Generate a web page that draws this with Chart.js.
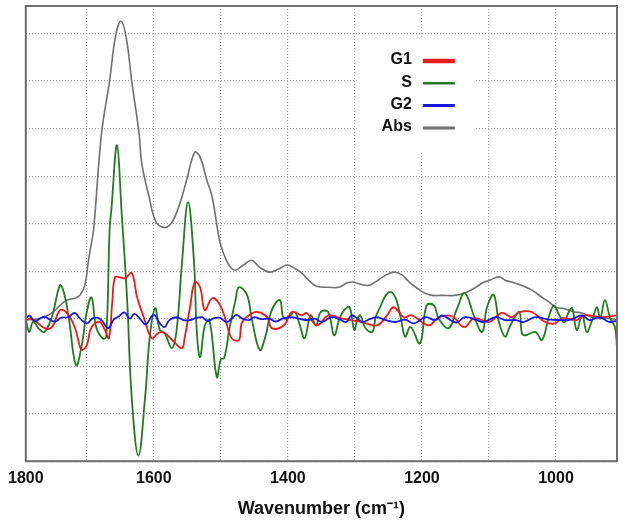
<!DOCTYPE html>
<html>
<head>
<meta charset="utf-8">
<script src="https://cdn.jsdelivr.net/npm/chart.js@4.4.1/dist/chart.umd.min.js"></script>
<style>
  html, body { margin: 0; padding: 0; background: #fff; }
  #wrap { width: 626px; height: 522px; }
</style>
</head>
<body>
<div id="wrap"><canvas id="spectra"></canvas></div>
<script>
// axis range (left edge is labelled 1800)
var xLeft = 1791;
var xRight = 909;
var xGrid = [1791, 1700, 1600, 1500, 1400, 1300, 1200, 1100, 1000, 909];
var xLabels = { 1791: '1800', 1600: '1600', 1400: '1400', 1200: '1200', 1000: '1000' };
var yGrid = [-3, -2, -1, 0, 1, 2, 3, 4, 5, 6];
var yMin = -3;
var yMax = 6.58;

var seriesNames = ['G1', 'S', 'G2', 'Abs'];

// [wavenumber, value]
var g1Points = [
    [1791, -0.03], [1782, 0.0], [1763, -0.2], [1752, -0.18], [1740, 0.18], [1730, 0.12],
    [1718, -0.18], [1710, -0.6], [1707, -0.66], [1700, -0.56], [1693, -0.18], [1681, -0.07],
    [1673, -0.24], [1667, -0.41], [1662, 0.35], [1658, 0.87], [1651, 0.87], [1643, 0.85],
    [1633, 0.96], [1625, 0.45], [1615, 0.03], [1603, -0.41], [1593, -0.3], [1584, -0.3],
    [1570, -0.49], [1558, -0.62], [1554, -0.4], [1546, 0.24], [1539, 0.77], [1531, 0.66],
    [1524, 0.18], [1513, 0.43], [1503, 0.33], [1494, 0.03], [1484, -0.41], [1473, -0.45],
    [1469, -0.1], [1458, 0.07], [1446, 0.14], [1431, 0.03], [1424, -0.2], [1406, -0.14],
    [1394, 0.14], [1379, 0.07], [1372, 0.12], [1357, -0.14], [1339, 0.07], [1319, 0.0],
    [1290, -0.07], [1267, -0.14], [1252, 0.07], [1242, 0.24], [1227, 0.03], [1215, 0.07],
    [1190, -0.14], [1175, 0.03], [1155, 0.05], [1137, -0.18], [1122, 0.01], [1100, -0.07],
    [1081, 0.12], [1066, 0.03], [1054, 0.14], [1036, 0.14], [1016, -0.07], [1001, -0.1],
    [991, 0.01], [969, -0.03], [958, 0.07], [931, 0.03], [909, 0.07]
];

var sPoints = [
    [1791, 0.0], [1786, -0.28], [1780, -0.07], [1771, -0.22], [1763, -0.28], [1752, 0.04],
    [1740, 0.7], [1734, 0.54], [1727, 0.03], [1716, -0.98], [1707, -0.52], [1701, 0.07],
    [1693, 0.45], [1686, -0.18], [1676, -0.42], [1671, -0.38], [1666, 1.86], [1663, 2.35],
    [1655, 3.65], [1648, 2.22], [1640, 0.45], [1633, -1.65], [1623, -2.88], [1613, -1.65],
    [1606, -0.38], [1598, 0.22], [1591, -0.24], [1584, -0.3], [1573, -0.62], [1566, -0.24],
    [1558, 1.17], [1549, 2.45], [1540, 1.17], [1536, -0.24], [1531, -0.81], [1524, -0.15],
    [1517, -0.03], [1506, -1.23], [1500, -0.85], [1495, -0.83], [1487, -0.2], [1478, 0.4],
    [1473, 0.66], [1461, 0.5], [1454, 0.0], [1442, -0.66], [1434, -0.4], [1424, 0.18],
    [1412, 0.39], [1407, 0.03], [1401, 0.0], [1390, 0.14], [1383, -0.1], [1375, -0.41],
    [1366, 0.07], [1358, -0.14], [1351, 0.14], [1340, 0.14], [1331, -0.35], [1323, 0.0],
    [1316, 0.18], [1308, 0.24], [1301, -0.24], [1296, 0.0], [1292, 0.07], [1284, -0.2],
    [1274, -0.28], [1269, 0.03], [1263, 0.22], [1254, 0.49], [1246, 0.56], [1238, 0.39],
    [1231, -0.03], [1225, -0.38], [1217, -0.17], [1203, -0.52], [1193, 0.28], [1182, 0.28],
    [1175, 0.0], [1160, -0.2], [1148, 0.2], [1136, 0.54], [1121, 0.0], [1110, -0.28],
    [1103, 0.24], [1093, 0.5], [1085, -0.08], [1076, -0.38], [1069, -0.17], [1055, 0.14],
    [1051, -0.3], [1046, -0.35], [1031, -0.28], [1021, -0.45], [1010, 0.07], [1003, 0.28],
    [996, 0.1], [988, -0.08], [981, 0.14], [976, 0.22], [969, -0.24], [961, 0.07],
    [954, -0.28], [946, -0.03], [939, 0.24], [934, 0.0], [927, 0.39], [919, 0.0],
    [912, -0.18], [909, -0.6]
];

var g2Points = [
    [1791, 0.02], [1785, 0.06], [1778, -0.06], [1770, 0.0], [1763, 0.04], [1755, -0.02],
    [1747, -0.06], [1738, 0.02], [1728, 0.03], [1718, 0.12], [1710, 0.0], [1700, -0.1],
    [1692, 0.0], [1684, 0.02], [1677, -0.05], [1668, -0.2], [1660, -0.02], [1652, 0.05],
    [1644, 0.13], [1636, 0.0], [1629, 0.1], [1619, -0.03], [1612, -0.12], [1600, 0.08],
    [1591, -0.1], [1584, -0.18], [1577, -0.03], [1566, 0.03], [1556, -0.03], [1546, -0.03],
    [1538, 0.01], [1528, 0.03], [1520, -0.05], [1512, 0.0], [1502, 0.02], [1492, -0.07],
    [1485, -0.02], [1477, 0.08], [1468, 0.0], [1458, -0.03], [1450, 0.03], [1440, -0.01],
    [1428, 0.0], [1418, -0.06], [1408, 0.0], [1394, 0.03], [1384, 0.0], [1370, -0.03],
    [1360, 0.0], [1349, -0.07], [1335, 0.03], [1322, -0.02], [1313, -0.07], [1305, 0.07],
    [1296, 0.0], [1289, -0.07], [1276, 0.0], [1267, 0.03], [1256, -0.02], [1240, -0.07],
    [1225, -0.02], [1212, -0.1], [1195, 0.03], [1180, -0.03], [1170, 0.07], [1155, -0.05],
    [1148, -0.08], [1136, 0.03], [1120, -0.02], [1108, -0.07], [1090, 0.03], [1076, -0.03],
    [1060, -0.03], [1048, -0.07], [1031, 0.03], [1010, -0.02], [990, -0.03], [981, -0.03],
    [971, 0.02], [961, 0.07], [950, -0.03], [935, 0.03], [921, -0.07], [912, -0.05],
    [909, -0.07]
];

var absPoints = [
    [1791, -0.02], [1778, -0.02], [1763, 0.04], [1752, 0.12], [1740, 0.28], [1730, 0.39],
    [1718, 0.43], [1710, 0.5], [1703, 0.7], [1698, 1.17], [1695, 1.44], [1690, 1.86],
    [1678, 3.9], [1666, 5.0], [1657, 5.95], [1649, 6.26], [1641, 5.9], [1633, 5.0],
    [1622, 3.9], [1618, 3.27], [1607, 2.56], [1598, 2.07], [1588, 1.93], [1576, 1.97],
    [1563, 2.35], [1551, 2.92], [1539, 3.5], [1531, 3.4], [1521, 2.92], [1513, 2.56],
    [1502, 1.65], [1496, 1.37], [1488, 1.13], [1479, 1.02], [1466, 1.13], [1454, 1.23],
    [1442, 1.08], [1427, 0.98], [1413, 1.05], [1401, 1.13], [1390, 1.06], [1379, 0.96],
    [1369, 0.81], [1357, 0.68], [1339, 0.66], [1324, 0.66], [1312, 0.75], [1304, 0.77],
    [1293, 0.73], [1279, 0.7], [1270, 0.77], [1257, 0.89], [1242, 0.98], [1230, 0.92],
    [1219, 0.77], [1207, 0.64], [1196, 0.54], [1185, 0.49], [1170, 0.49], [1151, 0.49],
    [1136, 0.54], [1122, 0.64], [1110, 0.75], [1099, 0.81], [1085, 0.88], [1076, 0.81],
    [1066, 0.77], [1051, 0.7], [1036, 0.6], [1021, 0.45], [1010, 0.35], [1001, 0.24],
    [991, 0.22], [981, 0.18], [972, 0.14], [961, 0.12], [942, 0.01], [931, 0.01],
    [921, 0.01], [909, -0.03]
];

var colors = ['rgb(232, 28, 28)', 'rgb(34, 122, 34)', 'rgb(24, 24, 228)', 'rgb(112, 112, 112)'];
var legendWidths = [4.5, 2.5, 3, 3];

function toXY(points) {
    return points.map(p => ({ x: p[0], y: p[1] }));
}

// frame around the plot area
var framePlugin = {
    id: 'frame',
    afterDraw: function (chart) {
        var ca = chart.chartArea;
        var ctx = chart.ctx;
        ctx.save();
        ctx.strokeStyle = '#6e6e6e';
        ctx.lineWidth = 2;
        ctx.strokeRect(ca.left, ca.top, ca.right - ca.left, ca.bottom - ca.top);
        ctx.restore();
    }
};

// legend inside the plot: label, then a short line
var legendPlugin = {
    id: 'insideLegend',
    afterDraw: function (chart) {
        var ca = chart.chartArea;
        var ctx = chart.ctx;
        ctx.save();
        ctx.fillStyle = '#fff';
        ctx.fillRect(ca.left + 331, ca.top + 31, 118, 114);
        ctx.font = 'bold 16px "Liberation Sans", Arial, sans-serif';
        ctx.textAlign = 'right';
        ctx.textBaseline = 'middle';
        seriesNames.forEach(function (name, i) {
            var y = ca.top + 54 + i * 22.3;
            ctx.fillStyle = '#111';
            ctx.fillText(name, ca.left + 386, y);
            ctx.strokeStyle = colors[i];
            ctx.lineWidth = legendWidths[i];
            ctx.beginPath();
            ctx.moveTo(ca.left + 397, y + 1);
            ctx.lineTo(ca.left + 429, y + 1);
            ctx.stroke();
        });
        ctx.restore();
    }
};

var lineDefaults = { pointRadius: 0, borderWidth: 1.8, tension: 0.4, fill: false };

var chart = new Chart(document.getElementById('spectra'), {
    type: 'line',
    data: {
        datasets: [
            Object.assign({ label: seriesNames[2], data: toXY(g2Points), borderColor: colors[2], order: 0 }, lineDefaults),
            Object.assign({ label: seriesNames[0], data: toXY(g1Points), borderColor: colors[0], order: 1 }, lineDefaults),
            Object.assign({ label: seriesNames[1], data: toXY(sPoints), borderColor: colors[1], order: 2 }, lineDefaults),
            Object.assign({ label: seriesNames[3], data: toXY(absPoints), borderColor: colors[3], order: 3 }, lineDefaults, { borderWidth: 1.6 })
        ]
    },
    options: {
        responsive: true,
        maintainAspectRatio: false,
        animation: false,
        layout: { padding: { left: 22, right: 9, top: 6, bottom: 0 } },
        plugins: {
            legend: { display: false },
            tooltip: { enabled: false }
        },
        scales: {
            x: {
                type: 'linear',
                reverse: true,
                min: xRight,
                max: xLeft,
                afterBuildTicks: function (axis) {
                    axis.ticks = xGrid.map(v => ({ value: v }));
                },
                ticks: {
                    autoSkip: false,
                    maxRotation: 0,
                    padding: 8,
                    color: '#111',
                    font: { family: '"Liberation Sans", Arial, sans-serif', size: 16, weight: 'bold' },
                    callback: function (value) {
                        return xLabels[value] || '';
                    }
                },
                grid: { color: '#a0a0a0', lineWidth: 1.2, drawTicks: false },
                border: { display: false, dash: [1, 2] },
                title: {
                    display: true,
                    text: 'Wavenumber (cm\u207B\u00B9)',
                    color: '#111',
                    font: { family: '"Liberation Sans", Arial, sans-serif', size: 18, weight: 'bold' },
                    padding: { top: 2, bottom: 2 }
                }
            },
            y: {
                type: 'linear',
                min: yMin,
                max: yMax,
                afterBuildTicks: function (axis) {
                    axis.ticks = yGrid.map(v => ({ value: v }));
                },
                ticks: { display: false },
                grid: { color: '#a0a0a0', lineWidth: 1.2, drawTicks: false },
                border: { display: false, dash: [1, 2] }
            }
        }
    },
    plugins: [framePlugin, legendPlugin]
});
</script>
</body>
</html>
